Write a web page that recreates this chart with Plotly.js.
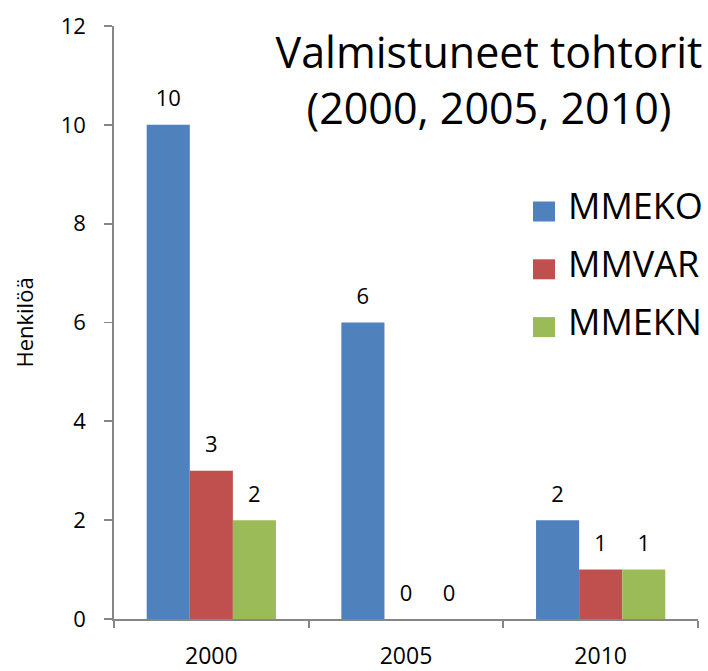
<!DOCTYPE html>
<html>
<head>
<meta charset="utf-8">
<script src="https://cdn.plot.ly/plotly-3.0.1.min.js"></script>
<style>html,body{margin:0;padding:0;background:#fff;}#chart{width:708px;height:671px;}</style>
</head>
<body>
<div id="chart"></div>
<script>
const categories = ["2000", "2005", "2010"];
const seriesNames = ["MMEKO", "MMVAR", "MMEKN"];
const mmeko = [10, 6, 2];
const mmvar = [3, 0, 1];
const mmekn = [2, 0, 1];
const seriesColors = ["#4F81BD", "#C0504D", "#9BBB59"];
const yTicks = [0, 2, 4, 6, 8, 10, 12];

const FONT = "Open Sans, Noto Sans, sans-serif";
const values = [mmeko, mmvar, mmekn];

const barTraces = values.map((v, i) => ({
  type: "bar",
  name: seriesNames[i],
  x: categories,
  y: v,
  marker: {color: seriesColors[i]},
  offsetgroup: "s" + i,
  legendgroup: "g" + i,
  hoverinfo: "x+y+name"
}));

// value labels: grouped scatter text over the same categories, aligned with the grouped bars
const labelTraces = values.map((v, i) => ({
  type: "scatter",
  mode: "markers+text",
  name: seriesNames[i] + " label",
  x: categories,
  y: v,
  text: v.map(String),
  textposition: "top center",
  textfont: {family: FONT, size: 22, color: "#000"},
  marker: {size: 19, color: "rgba(0,0,0,0)"},
  offsetgroup: "s" + i,
  cliponaxis: false,
  showlegend: false,
  hoverinfo: "skip"
}));

const PL = 114, PR = 698, PT = 26, PB = 619;
const layout = {
  width: 708,
  height: 671,
  margin: {l: PL, r: 708 - PR, t: PT, b: 671 - PB, autoexpand: false},
  paper_bgcolor: "#fff",
  plot_bgcolor: "#fff",
  font: {family: FONT, color: "#000"},
  barmode: "group",
  bargap: 0.336,
  bargroupgap: 0,
  scattermode: "group",
  scattergap: 0.336,
  title: {
    text: "Valmistuneet tohtorit<br>(2000, 2005, 2010)",
    font: {family: FONT, size: 43, color: "#000"},
    xref: "container", x: 489/708, xanchor: "center",
    yref: "container", y: 1 - 68/671, yanchor: "top"
  },
  xaxis: {
    type: "category",
    showline: true, linecolor: "#868686", linewidth: 1.75,
    ticks: "outside", tickson: "boundaries", ticklen: 7, tickcolor: "#868686", tickwidth: 1.75,
    tickfont: {family: FONT, size: 23, color: "#000"},
    ticklabelstandoff: 16,
    showgrid: false, zeroline: false
  },
  yaxis: {
    range: [0, 12],
    tickvals: yTicks,
    ticktext: yTicks.map(String),
    showline: true, linecolor: "#868686", linewidth: 1.75,
    ticks: "outside", ticklen: 8, tickcolor: "#868686", tickwidth: 1.75,
    tickfont: {family: FONT, size: 22, color: "#000"},
    ticklabelstandoff: 14,
    showgrid: false, zeroline: false,
    title: {text: "Henkilöä", font: {family: FONT, size: 22, color: "#000"}, standoff: 21}
  },
  showlegend: true,
  legend: {
    xref: "container", yref: "container",
    x: 528 / 708, xanchor: "left",
    y: 1 - 175 / 671, yanchor: "top",
    font: {family: FONT, size: 36, color: "#000"},
    traceorder: "grouped",
    tracegroupgap: 8,
    bgcolor: "rgba(0,0,0,0)"
  }
};

function sizeLegendSwatches() {
  document.querySelectorAll("#chart g.legend g.traces").forEach(g => {
    const t = g.querySelector("text.legendtext");
    const p = g.querySelector(".legendpoints path");
    if (!t || !p) return;
    const tb = t.getBoundingClientRect();
    const baseline = tb.bottom - 0.29 * 36;
    const m = p.parentNode.getScreenCTM().inverse();
    const pt = (x, y) => new DOMPoint(x, y).matrixTransform(m);
    const a = pt(tb.left - 35, baseline - 18);
    const b = pt(tb.left - 13, baseline + 2);
    p.removeAttribute("transform");
    p.setAttribute("d", `M${b.x},${b.y}H${a.x}V${a.y}H${b.x}Z`);
  });
}

Plotly.newPlot("chart", barTraces.concat(labelTraces), layout, {displayModeBar: false, staticPlot: true}).then(sizeLegendSwatches);
</script>
</body>
</html>
